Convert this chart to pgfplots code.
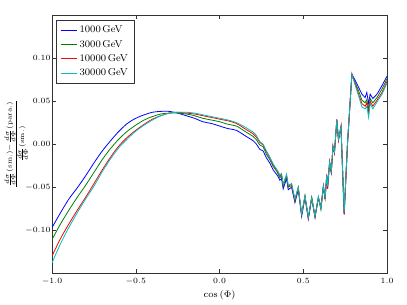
\documentclass[border=0pt]{standalone}
\usepackage{pgfplots}
\pgfplotsset{compat=1.18}
\definecolor{mplgreen}{rgb}{0,0.5,0}
\definecolor{mplcyan}{rgb}{0,0.75,0.75}
\begin{document}
\begin{tikzpicture}
\begin{axis}[
  name=ax,
  scale only axis,
  width=252pt, height=194.25pt,
  xmin=-1, xmax=1, ymin=-0.15, ymax=0.15,
  xtick={-1,-0.5,0,0.5,1},
  ytick={-0.10,-0.05,0,0.05,0.10},
  xticklabel style={/pgf/number format/.cd,fixed,fixed zerofill,precision=1},
  yticklabel style={/tikz/inner xsep=1pt,/pgf/number format/.cd,fixed,fixed zerofill,precision=2},
  scaled y ticks=false,
  tick align=inside,
  major tick length=3pt,
  tick style={black!80, line width=0.4pt},
  axis line style={black!80, line width=0.5pt},
  ticklabel style={font=\fontsize{6.5}{8}\selectfont},
  xlabel={$\cos\left(\Phi\right)$},
  ylabel={$\frac{\frac{d\sigma}{d\Phi}(\mathrm{sm.})-\frac{d\sigma}{d\Phi}(\mathrm{para.})}{\frac{d\sigma}{d\Phi}(\mathrm{sm.})}$},
  label style={font=\fontsize{7}{8}\selectfont},
  xlabel style={at={(axis description cs:0.5,-0.085)}, anchor=center},
  ylabel style={at={(axis description cs:-0.107,0.5)}, anchor=center},
  legend style={font=\fontsize{7.5}{9}\selectfont, draw=black!80, at={(0.012,0.98)}, anchor=north west, inner xsep=3pt, inner ysep=2pt, row sep=0pt},
  legend cell align=left,
  legend image post style={xscale=0.7},
  every axis plot/.append style={line width=0.6pt},
]
% 1000 GeV
\addplot[color=blue, smooth, tension=0.5] coordinates {
(-1.00,-0.097)(-0.95,-0.080)(-0.90,-0.064)(-0.85,-0.051)(-0.80,-0.037)(-0.75,-0.022)(-0.70,-0.008)(-0.65,0.004)(-0.60,0.015)(-0.55,0.024)(-0.50,0.030)(-0.45,0.034)(-0.40,0.037)(-0.35,0.038)(-0.30,0.038)(-0.25,0.036)(-0.20,0.033)(-0.15,0.030)(-0.10,0.026)(-0.05,0.024)(0.00,0.021)(0.05,0.018)(0.10,0.016)(0.15,0.010)(0.20,0.004)
};
\addlegendentry{1000\,GeV}
\addplot[color=mplgreen, smooth, tension=0.5] coordinates {
(-1.00,-0.111)(-0.95,-0.093)(-0.90,-0.077)(-0.85,-0.062)(-0.80,-0.048)(-0.75,-0.033)(-0.70,-0.018)(-0.65,-0.005)(-0.60,0.006)(-0.55,0.015)(-0.50,0.022)(-0.45,0.028)(-0.40,0.032)(-0.35,0.035)(-0.30,0.036)(-0.25,0.036)(-0.20,0.035)(-0.15,0.033)(-0.10,0.030)(-0.05,0.028)(0.00,0.026)(0.05,0.023)(0.10,0.021)(0.15,0.015)(0.20,0.009)
};
\addlegendentry{3000\,GeV}
\addplot[color=red, smooth, tension=0.5] coordinates {
(-1.00,-0.130)(-0.95,-0.110)(-0.90,-0.093)(-0.85,-0.077)(-0.80,-0.062)(-0.75,-0.046)(-0.70,-0.030)(-0.65,-0.015)(-0.60,-0.002)(-0.55,0.008)(-0.50,0.016)(-0.45,0.023)(-0.40,0.029)(-0.35,0.033)(-0.30,0.036)(-0.25,0.037)(-0.20,0.036)(-0.15,0.035)(-0.10,0.033)(-0.05,0.031)(0.00,0.029)(0.05,0.027)(0.10,0.024)(0.15,0.018)(0.20,0.012)
};
\addlegendentry{10000\,GeV}
\addplot[color=mplcyan, smooth, tension=0.5] coordinates {
(-1.00,-0.138)(-0.95,-0.116)(-0.90,-0.097)(-0.85,-0.080)(-0.80,-0.064)(-0.75,-0.049)(-0.70,-0.032)(-0.65,-0.017)(-0.60,-0.004)(-0.55,0.006)(-0.50,0.015)(-0.45,0.022)(-0.40,0.028)(-0.35,0.033)(-0.30,0.036)(-0.25,0.037)(-0.20,0.037)(-0.15,0.036)(-0.10,0.034)(-0.05,0.032)(0.00,0.030)(0.05,0.028)(0.10,0.025)(0.15,0.020)(0.20,0.014)
};
\addlegendentry{30000\,GeV}
% noisy parts
\addplot[color=blue, forget plot] coordinates {
(0.20,0.004)(0.22,0.000)(0.24,-0.006)(0.26,-0.008)(0.28,-0.016)(0.30,-0.022)(0.32,-0.030)(0.34,-0.035)(0.35,-0.038)(0.36,-0.042)(0.37,-0.040)(0.38,-0.052)(0.40,-0.040)(0.41,-0.053)(0.43,-0.050)(0.45,-0.068)(0.47,-0.053)(0.49,-0.084)(0.51,-0.062)(0.53,-0.087)(0.55,-0.063)(0.57,-0.085)(0.59,-0.062)
(0.605,-0.074)(0.62,-0.049)(0.63,-0.064)(0.64,-0.036)(0.645,-0.051)(0.657,-0.021)(0.667,-0.033)(0.677,-0.003)(0.686,-0.010)(0.70,0.028)(0.71,0.005)(0.725,0.020)(0.744,-0.082)(0.764,0.001)(0.79,0.081)
(0.81,0.074)(0.83,0.066)(0.85,0.058)(0.869,0.054)(0.879,0.060)(0.89,0.047)(0.899,0.058)(0.915,0.053)(0.94,0.058)(0.97,0.068)(1.00,0.079)
};
\addplot[color=mplgreen, forget plot] coordinates {
(0.20,0.009)(0.22,0.005)(0.24,-0.001)(0.26,-0.003)(0.28,-0.012)(0.30,-0.018)(0.32,-0.026)(0.34,-0.031)(0.35,-0.035)(0.36,-0.039)(0.37,-0.037)(0.38,-0.049)(0.40,-0.037)(0.41,-0.050)(0.43,-0.048)(0.45,-0.066)(0.47,-0.051)(0.49,-0.082)(0.51,-0.061)(0.53,-0.086)(0.55,-0.062)(0.57,-0.085)(0.59,-0.062)
(0.605,-0.076)(0.62,-0.050)(0.63,-0.063)(0.64,-0.037)(0.645,-0.050)(0.657,-0.022)(0.667,-0.032)(0.677,-0.004)(0.686,-0.009)(0.70,0.027)(0.71,0.006)(0.725,0.019)(0.744,-0.080)(0.764,0.002)(0.79,0.080)
(0.81,0.071)(0.83,0.062)(0.85,0.051)(0.869,0.048)(0.879,0.052)(0.89,0.040)(0.899,0.053)(0.915,0.048)(0.94,0.054)(0.97,0.064)(1.00,0.076)
};
\addplot[color=red, forget plot] coordinates {
(0.20,0.012)(0.22,0.008)(0.24,0.002)(0.26,-0.001)(0.28,-0.009)(0.30,-0.016)(0.32,-0.024)(0.34,-0.030)(0.35,-0.033)(0.36,-0.037)(0.37,-0.035)(0.38,-0.047)(0.40,-0.036)(0.41,-0.049)(0.43,-0.046)(0.45,-0.065)(0.47,-0.050)(0.49,-0.082)(0.51,-0.060)(0.53,-0.086)(0.55,-0.062)(0.57,-0.084)(0.59,-0.062)
(0.605,-0.073)(0.62,-0.048)(0.63,-0.064)(0.64,-0.035)(0.645,-0.052)(0.657,-0.020)(0.667,-0.034)(0.677,-0.002)(0.686,-0.011)(0.70,0.029)(0.71,0.004)(0.725,0.021)(0.744,-0.081)(0.764,0.000)(0.79,0.082)
(0.81,0.070)(0.83,0.058)(0.85,0.047)(0.869,0.044)(0.879,0.048)(0.89,0.035)(0.899,0.050)(0.915,0.044)(0.94,0.051)(0.97,0.060)(1.00,0.073)
};
\addplot[color=mplcyan, forget plot] coordinates {
(0.20,0.014)(0.22,0.010)(0.24,0.003)(0.26,0.000)(0.28,-0.008)(0.30,-0.015)(0.32,-0.023)(0.34,-0.029)(0.35,-0.032)(0.36,-0.036)(0.37,-0.034)(0.38,-0.047)(0.40,-0.035)(0.41,-0.048)(0.43,-0.046)(0.45,-0.064)(0.47,-0.050)(0.49,-0.081)(0.51,-0.060)(0.53,-0.085)(0.55,-0.062)(0.57,-0.084)(0.59,-0.061)
(0.605,-0.075)(0.62,-0.049)(0.63,-0.062)(0.64,-0.036)(0.645,-0.049)(0.657,-0.021)(0.667,-0.031)(0.677,-0.003)(0.686,-0.009)(0.70,0.028)(0.71,0.006)(0.725,0.020)(0.744,-0.079)(0.764,0.002)(0.79,0.081)
(0.81,0.068)(0.83,0.056)(0.85,0.043)(0.869,0.041)(0.879,0.044)(0.89,0.031)(0.899,0.047)(0.915,0.041)(0.94,0.049)(0.97,0.058)(1.00,0.071)
};
\end{axis}
\path (ax.south west) ++(-38.25pt,-23.25pt) coordinate (bbA);
\path (ax.north east) ++(15pt,11.25pt) coordinate (bbB);
\path (bbA) rectangle (bbB);
\end{tikzpicture}
\end{document}
